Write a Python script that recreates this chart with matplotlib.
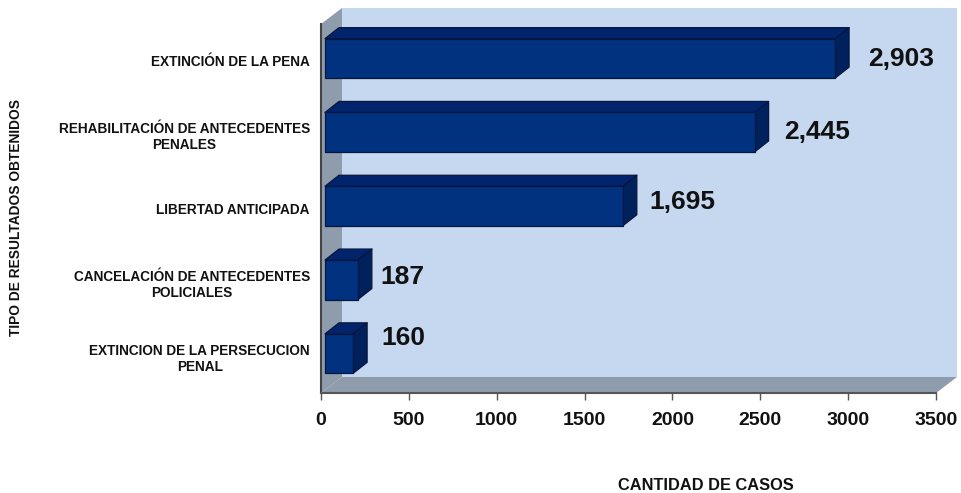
import matplotlib
matplotlib.use("Agg")
import matplotlib.pyplot as plt
from matplotlib.patches import Polygon

plt.rcParams['font.family'] = ['Liberation Sans', 'DejaVu Sans']

categorias = ["EXTINCIÓN DE LA PENA",
              "REHABILITACIÓN DE ANTECEDENTES\nPENALES",
              "LIBERTAD ANTICIPADA",
              "CANCELACIÓN DE ANTECEDENTES\nPOLICIALES",
              "EXTINCION DE LA PERSECUCION\nPENAL"]
casos = [2903, 2445, 1695, 187, 160]
etiquetas = ["2,903", "2,445", "1,695", "187", "160"]
ticks_x = [0, 500, 1000, 1500, 2000, 2500, 3000, 3500]

W, H = 961, 493
# ejes frontales en pixeles
x0, x1, y0, y1 = 321, 936, 24, 393
px_x = 3500 / (x1 - x0)
px_y = 5 / (y1 - y0)

# desplazamiento de cada etiqueta respecto a la punta de la barra (pixeles)
off_etiqueta = [(33, 1), (30, 0), (27, -4), (23, -3), (28, -16)]

fig = plt.figure(figsize=(W / 100, H / 100), dpi=100)
ax = fig.add_axes([x0 / W, 1 - y1 / H, (x1 - x0) / W, (y1 - y0) / H])
ax.set_xlim(0, 3500)
ax.set_ylim(4.5, -0.5)
ax.patch.set_visible(False)


def poly(pts, color, ec="none", lw=0, z=1):
    ax.add_patch(Polygon(pts, closed=True, fc=color, ec=ec, lw=lw, zorder=z,
                         clip_on=False, joinstyle="round"))


# paredes
wx = 21 * px_x
wy = 16 * px_y
poly([(wx, 4.5 - wy), (3500 + wx, 4.5 - wy), (3500 + wx, -0.5 - wy), (wx, -0.5 - wy)], "#C6D8F0")
poly([(0, -0.5), (wx, -0.5 - wy), (wx, 4.5 - wy), (0, 4.5)], "#8E9CAC")
poly([(0, 4.5), (wx, 4.5 - wy), (3500 + wx, 4.5 - wy), (3500, 4.5)], "#8E9CAC")

# barras 3d
dx = 14 * px_x
dy = 11 * px_y
inicio = 4 * px_x
alto = 39.5 * px_y
sube = 2.5 * px_y
borde = "#06173F"
for i, v in enumerate(casos):
    a = inicio
    b = inicio + v
    t = i - sube - alto / 2
    u = i - sube + alto / 2
    poly([(a, t), (a + dx, t - dy), (b + dx, t - dy), (b, t)], "#01246C", borde, 0.9, 3)
    poly([(b, t), (b + dx, t - dy), (b + dx, u - dy), (b, u)], "#01215C", borde, 0.9, 3)
    poly([(a, t), (b, t), (b, u), (a, u)], "#00327F", borde, 0.9, 4)
    ax.annotate(etiquetas[i], xy=(b, i - sube), xytext=(off_etiqueta[i][0] * 0.72, off_etiqueta[i][1] * -0.72),
                textcoords="offset points", ha="left", va="center",
                fontsize=19, fontweight="bold", color="#111111", zorder=5)

for s in ["top", "right"]:
    ax.spines[s].set_visible(False)
ax.spines["left"].set_color("#444444")
ax.spines["left"].set_linewidth(1.5)
ax.spines["left"].set_zorder(6)
ax.spines["bottom"].set_color("#555555")
ax.spines["bottom"].set_linewidth(1.5)
ax.spines["bottom"].set_zorder(6)

ax.set_xticks(ticks_x)
ax.set_xticklabels([str(t) for t in ticks_x], fontsize=14, fontweight="bold", color="#111111")
ax.tick_params(axis="x", length=5, width=1, color="#555555", pad=8.5)
ax.set_yticks(range(5))
ax.set_yticklabels(categorias, fontsize=9.8, fontweight="bold", color="#111111", ma="center", linespacing=1.2)
ax.tick_params(axis="y", length=0, pad=8)

fig.text(706 / W, 1 - 485.5 / H, "CANTIDAD DE CASOS", ha="center", va="center",
         fontsize=11.8, fontweight="bold", color="#111111")
fig.text(16.5 / W, 1 - 218 / H, "TIPO DE RESULTADOS OBTENIDOS", ha="center", va="center",
         rotation=90, fontsize=9.9, fontweight="bold", color="#111111")

fig.savefig("out.png", dpi=100)
